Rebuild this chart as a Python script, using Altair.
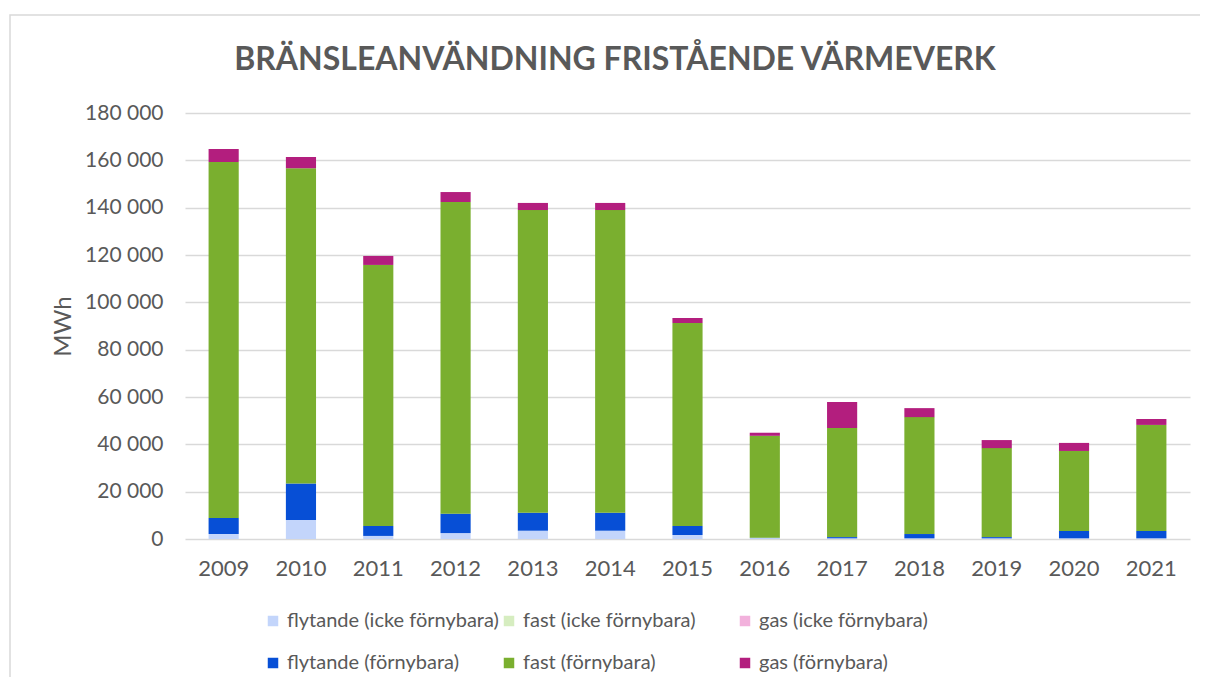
import altair as alt
import pandas as pd

years = ["2009", "2010", "2011", "2012", "2013", "2014", "2015",
         "2016", "2017", "2018", "2019", "2020", "2021"]
series = ["flytande (icke förnybara)", "fast (icke förnybara)", "gas (icke förnybara)",
          "flytande (förnybara)", "fast (förnybara)", "gas (förnybara)"]
colors = ["#C3D5FB", "#D6EDC0", "#F2B1DC", "#074FD6", "#7AAF2F", "#B31E7E"]
title_text = "BRÄNSLEANVÄNDNING FRISTÅENDE VÄRMEVERK"

flytande_icke = [2100, 8000, 1300, 2500, 3500, 3500, 1700, 400, 300, 300, 300, 300, 300]
fast_icke = [0, 0, 0, 0, 0, 0, 0, 0, 0, 0, 0, 0, 0]
gas_icke = [0, 0, 0, 0, 0, 0, 0, 0, 0, 0, 0, 0, 0]
flytande_forn = [6800, 15400, 4200, 8200, 7600, 7600, 3800, 100, 500, 1800, 500, 3100, 3100]
fast_forn = [150400, 133300, 110300, 131700, 127900, 127900, 85800, 43100, 46100, 49400, 37600, 33800, 44800]
gas_forn = [5500, 4700, 3800, 4200, 3000, 3000, 2100, 1300, 11000, 3800, 3400, 3400, 2500]

values = [flytande_icke, fast_icke, gas_icke, flytande_forn, fast_forn, gas_forn]
rows = []
for si, (name, vals) in enumerate(zip(series, values)):
    for y, v in zip(years, vals):
        rows.append({"year": y, "serie": name, "idx": si, "value": v})
df = pd.DataFrame(rows)

FONT = "Lato"
GREY = "#595959"

bars = alt.Chart(df).mark_bar().encode(
    x=alt.X("year:N", sort=years,
            scale=alt.Scale(paddingInner=0.61, paddingOuter=0.305),
            axis=alt.Axis(title=None, labelAngle=0, labelFontSize=22, labelColor=GREY,
                          labelFont=FONT, labelPadding=19, ticks=False, domain=False)),
    y=alt.Y("value:Q", stack="zero",
            scale=alt.Scale(domain=[0, 180000], nice=False),
            axis=alt.Axis(title="MWh", values=list(range(0, 180001, 20000)),
                          labelExpr="replace(format(datum.value, ','), ',', ' ')",
                          labelFontSize=21, labelColor=GREY, labelFont=FONT, labelPadding=22,
                          titleFontSize=24, titleFontWeight="normal", titleColor=GREY,
                          titleFont=FONT, titlePadding=9,
                          ticks=False, domain=False, grid=True,
                          gridColor="#D9D9D9", gridWidth=1.6)),
    color=alt.Color("serie:N",
                    scale=alt.Scale(domain=series, range=colors),
                    legend=alt.Legend(title=None, orient="none", legendX=78, legendY=498,
                                      direction="horizontal",
                                      columns=3, gridAlign="all", columnPadding=-9,
                                      rowPadding=22, symbolType="square", symbolSize=110,
                                      symbolStrokeWidth=0, labelFontSize=20, labelColor=GREY,
                                      labelFont=FONT, labelLimit=400, labelOffset=4)),
    order=alt.Order("idx:Q", sort="ascending"),
)

frame = alt.Chart(pd.DataFrame({"a": [0]})).mark_rect(
    fill=None, stroke="#D9D9D9", strokeWidth=1.5
).encode(
    x=alt.value(-175), x2=alt.value(1040),
    y=alt.value(-98), y2=alt.value(600),
)

title = alt.Chart(pd.DataFrame({"t": [title_text]})).mark_text(
    font=FONT, fontSize=32, fontWeight="bold", color=GREY, align="center", baseline="middle"
).encode(
    text="t:N", x=alt.value(430), y=alt.value(-53),
)

chart = alt.layer(frame, title, bars).properties(
    width=1005, height=426,
    autosize=alt.AutoSizeParams(type="none"),
    padding={"left": 177, "top": 105, "right": 10, "bottom": 138},
).configure_view(stroke=None)

chart.save("out.html", embed_options={"renderer": "svg", "actions": False})
